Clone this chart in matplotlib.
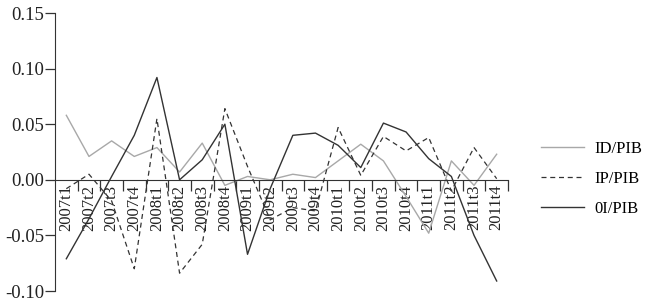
import numpy as np
import matplotlib
matplotlib.use("Agg")
import matplotlib.pyplot as plt

plt.rcParams['font.family'] = ['Liberation Serif', 'DejaVu Serif']

labels = ['2007t1', '2007t2', '2007t3', '2007t4',
          '2008t1', '2008t2', '2008t3', '2008t4',
          '2009t1', '2009t2', '2009t3', '2009t4',
          '2010t1', '2010t2', '2010t3', '2010t4',
          '2011t1', '2011t2', '2011t3', '2011t4']

id_pib = [0.058, 0.021, 0.035, 0.021, 0.029, 0.007, 0.033, -0.005, 0.003, 0.000,
          0.005, 0.002, 0.017, 0.032, 0.017, -0.015, -0.048, 0.017, -0.005, 0.023]
ip_pib = [-0.008, 0.005, -0.019, -0.080, 0.055, -0.084, -0.058, 0.064, 0.012, -0.036,
          -0.025, -0.028, 0.047, 0.004, 0.039, 0.026, 0.038, -0.010, 0.029, 0.001]
oi_pib = [-0.071, -0.035, 0.003, 0.040, 0.092, 0.000, 0.018, 0.050, -0.067, -0.008,
          0.040, 0.042, 0.031, 0.011, 0.051, 0.043, 0.019, 0.003, -0.050, -0.091]

yticks = [-0.10, -0.05, 0.00, 0.05, 0.10, 0.15]
ytick_labels = ['-0.10', '-0.05', '0.00', '0.05', '0.10', '0.15']

fig = plt.figure(figsize=(6.46, 3.05), dpi=100)
ax = fig.add_axes([55/646, 14/305, 453/646, 278/305])

x = np.arange(len(labels))
ax.plot(x, id_pib, color='#a8a8a8', lw=1.0, label='ID/PIB')
ax.plot(x, ip_pib, color='#333333', lw=0.9, ls=(0, (4, 3)), label='IP/PIB')
ax.plot(x, oi_pib, color='#333333', lw=1.0, label='0I/PIB')

ax.set_xlim(-0.5, len(labels) - 0.5)
ax.set_ylim(-0.10, 0.15)

for s in ['top', 'right']:
    ax.spines[s].set_visible(False)
ax.spines['bottom'].set_position(('data', 0))
ax.spines['left'].set_color('#333333')
ax.spines['bottom'].set_color('#333333')

ax.set_yticks(yticks)
ax.set_yticklabels(ytick_labels, fontsize=13.5, color='#222222')
ax.tick_params(axis='y', direction='out', length=7, width=0.9, pad=1, color='#333333')

# boundary ticks go down from the zero line, labels sit at the centres
ax.set_xticks(np.arange(0.5, len(labels), 1.0))
ax.set_xticklabels([])
ax.set_xticks(x, minor=True)
ax.set_xticklabels(labels, minor=True, rotation=90, fontsize=12, color='#222222')
ax.tick_params(axis='x', which='major', direction='out', length=8, width=0.9, color='#333333')
ax.tick_params(axis='x', which='minor', length=0, pad=3.5)

ax.legend(loc='center left', bbox_to_anchor=(541/646, 126/305), bbox_transform=fig.transFigure,
          frameon=False, fontsize=12, handlelength=2.6, handletextpad=0.6,
          labelspacing=0.85, borderpad=0, borderaxespad=0)

fig.savefig('out.png', dpi=100)
